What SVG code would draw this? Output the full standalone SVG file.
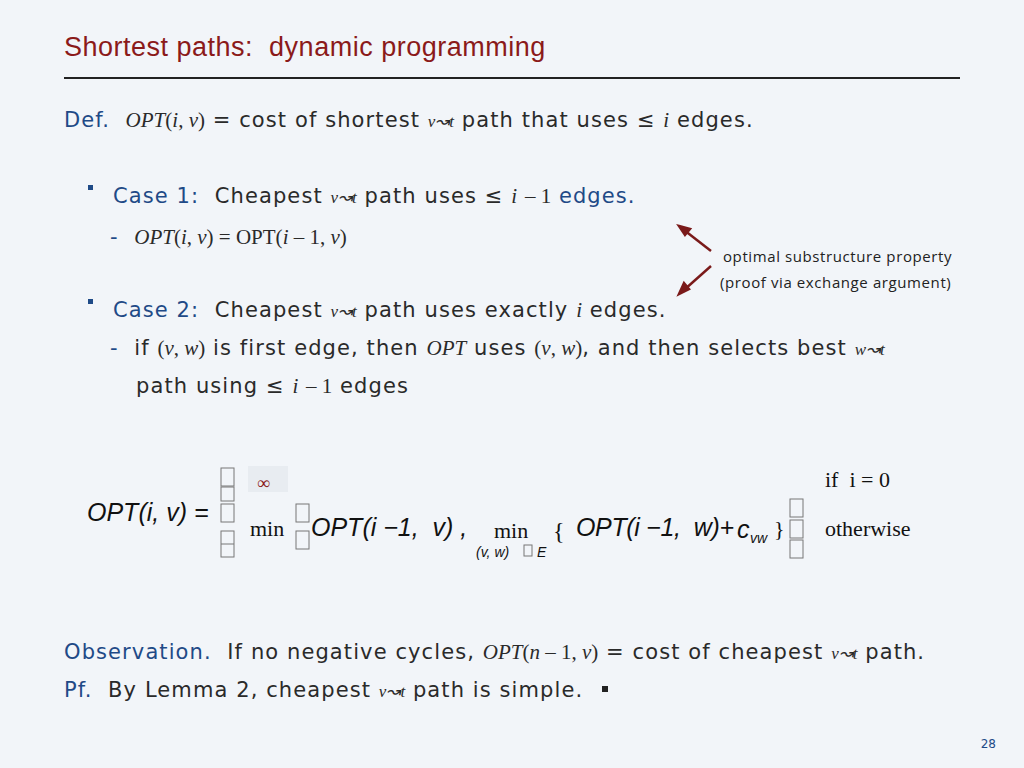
<svg xmlns="http://www.w3.org/2000/svg" width="1024" height="768" viewBox="0 0 1024 768">
<style>
text{white-space:pre}
.s{font-family:"DejaVu Sans","Open Sans",sans-serif;font-size:21px;fill:#2a2a2a;letter-spacing:1.1px}
.b{fill:#1f4a87}
.m{font-family:"Liberation Serif",serif;font-style:italic;fill:#2a2a2a;letter-spacing:0}
.n{font-family:"Liberation Serif",serif;font-style:normal;fill:#2a2a2a;letter-spacing:0}
.h{font-family:"Liberation Sans",Arial,sans-serif;font-style:italic;fill:#111}
.r{font-family:"Liberation Serif",serif;fill:#111}
.a{font-family:"Open Sans","DejaVu Sans",sans-serif;font-size:15px;fill:#222;letter-spacing:0.6px}
.tofu{fill:none;stroke:#777;stroke-width:1}
</style>
<rect width="1024" height="768" fill="#f2f5f9"/>
<text x="64" y="56" font-family="Liberation Sans,Arial,sans-serif" font-size="27" letter-spacing="0.5" fill="#8b1a1a">Shortest paths:  dynamic programming</text>
<line x1="64" y1="78" x2="960" y2="78" stroke="#222" stroke-width="2"/>
<text x="64" y="127" class="s"><tspan class="b">Def.</tspan>  <tspan class="m">OPT</tspan><tspan class="n">(</tspan><tspan class="m">i</tspan><tspan class="n">, </tspan><tspan class="m">v</tspan><tspan class="n">)</tspan> = cost of shortest <tspan class="m" font-size="17">v↝t</tspan> path that uses ≤ <tspan class="m">i</tspan> edges.</text>
<rect x="88" y="185" width="5" height="5" fill="#1f4a87"/>
<text x="113" y="203" class="s"><tspan class="b">Case 1:</tspan>  Cheapest <tspan class="m" font-size="17">v↝t</tspan> path uses ≤ <tspan class="m">i</tspan> <tspan class="n">– 1</tspan> <tspan class="b">edges.</tspan></text>
<text x="110" y="244" class="s"><tspan class="b">-</tspan>  <tspan class="m">OPT</tspan><tspan class="n">(</tspan><tspan class="m">i</tspan><tspan class="n">, </tspan><tspan class="m">v</tspan><tspan class="n">) = OPT(</tspan><tspan class="m">i</tspan><tspan class="n"> – 1, </tspan><tspan class="m">v</tspan><tspan class="n">)</tspan></text>
<rect x="88" y="299" width="5" height="5" fill="#1f4a87"/>
<text x="113" y="317" class="s"><tspan class="b">Case 2:</tspan>  Cheapest <tspan class="m" font-size="17">v↝t</tspan> path uses exactly <tspan class="m">i</tspan> edges.</text>
<text x="110" y="355" class="s"><tspan class="b">-</tspan>  if <tspan class="n">(</tspan><tspan class="m">v</tspan><tspan class="n">, </tspan><tspan class="m">w</tspan><tspan class="n">)</tspan> is first edge, then <tspan class="m">OPT</tspan> uses <tspan class="n">(</tspan><tspan class="m">v</tspan><tspan class="n">, </tspan><tspan class="m">w</tspan><tspan class="n">)</tspan>, and then selects best <tspan class="m" font-size="17">w↝t</tspan></text>
<text x="136" y="393" class="s">path using ≤ <tspan class="m">i</tspan> <tspan class="n">– 1</tspan> edges</text>
<g id="connectors" stroke="#7a1a1a" stroke-width="2.5" fill="#7a1a1a">
<line x1="711" y1="251" x2="684" y2="230"/>
<polygon points="679,226 690,229 685,235"/>
<line x1="711" y1="266" x2="684" y2="290"/>
<polygon points="679,294 684,283 689,289"/>
</g>
<text x="723" y="262" class="a">optimal substructure property</text>
<text x="720" y="288" class="a">(proof via exchange argument)</text>
<g id="formula">
<text x="87" y="521" class="h" font-size="25">OPT(i, v) =</text>
<rect x="221" y="468" width="13" height="18" class="tofu"/>
<rect x="221" y="487" width="13" height="14" class="tofu"/>
<rect x="221" y="504" width="13" height="18" class="tofu"/>
<rect x="221" y="531" width="13" height="26" class="tofu"/>
<line x1="221" y1="544" x2="234" y2="544" stroke="#777"/>
<rect x="248" y="466" width="40" height="26" fill="#e8ecf1"/>
<text x="257" y="489" class="r" font-size="18" style="fill:#8b1a1a">∞</text>
<text x="250" y="536" class="r" font-size="22">min</text>
<rect x="296" y="504" width="13" height="18" class="tofu"/>
<rect x="296" y="531" width="13" height="18" class="tofu"/>
<text x="311" y="536" class="h" font-size="25">OPT(i −1,  v) ,</text>
<text x="494" y="538" class="r" font-size="22">min</text>
<text x="476" y="557" class="h" font-size="14">(v, w)</text>
<rect x="524" y="545" width="8" height="11" class="tofu"/>
<text x="537" y="557" class="h" font-size="14">E</text>
<text x="553" y="539" class="r" font-size="24">{</text>
<text x="576" y="536" class="h" font-size="25" textLength="158">OPT(i −1,  w)+</text>
<text x="737" y="538" class="h" font-size="25">c</text>
<text x="750" y="543" class="h" font-size="14">vw</text>
<text x="774" y="536" class="r" font-size="22">}</text>
<rect x="790" y="499" width="13" height="18" class="tofu"/>
<rect x="790" y="520" width="13" height="18" class="tofu"/>
<rect x="790" y="540" width="13" height="18" class="tofu"/>
<text x="825" y="487" class="r" font-size="22">if  i = 0</text>
<text x="825" y="536" class="r" font-size="22">otherwise</text>
</g>
<text x="64" y="659" class="s"><tspan class="b">Observation.</tspan>  If no negative cycles, <tspan class="m">OPT</tspan><tspan class="n">(</tspan><tspan class="m">n</tspan><tspan class="n"> – 1, </tspan><tspan class="m">v</tspan><tspan class="n">)</tspan> = cost of cheapest <tspan class="m" font-size="17">v↝t</tspan> path.</text>
<text x="64" y="697" class="s"><tspan class="b">Pf.</tspan>  By Lemma 2, cheapest <tspan class="m" font-size="17">v↝t</tspan> path is simple.</text>
<rect x="602" y="686" width="6" height="6" fill="#222"/>
<text x="996" y="748" text-anchor="end" font-family="DejaVu Sans,sans-serif" font-size="12" fill="#1f4a87">28</text>
</svg>
